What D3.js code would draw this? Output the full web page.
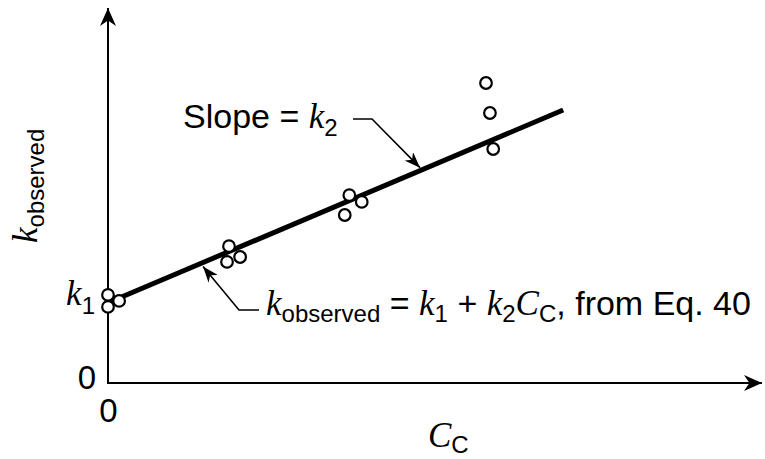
<!DOCTYPE html>
<html>
<head>
<meta charset="utf-8">
<script src="https://cdn.jsdelivr.net/npm/d3@7"></script>
<style>
  html, body { margin: 0; padding: 0; background: #fff; }
  svg { display: block; }
  .sans { font-family: "Liberation Sans", Arial, Helvetica, sans-serif; }
  .ital { font-family: "Liberation Serif", "Times New Roman", serif; font-style: italic; }
</style>
</head>
<body>
<svg id="chart" width="765" height="459"></svg>
<script>
// Measured rate constant versus catalyst concentration (arbitrary units)
const cc    = [0, 0, 1.7, 18.5, 18.2, 20.2, 36.9, 38.8, 36.2, 57.8, 58.4, 58.9];
const kObs  = [23.5, 20.3, 21.9, 36.5, 32.3, 33.6, 50.1, 48.3, 44.8, 80.0, 72.0, 62.4];

// Fitted straight line k_observed = k1 + k2 * C_C
const k1 = 21.4;
const k2 = 0.7385;
const fitRange = [0, 69.6];

const xTicks = [0];
const yTicks = [0];

const SANS = "34px", ITAL = "35px", SUB = "24px";

const svg = d3.select("#chart");
const x = d3.scaleLinear().domain([0, 100]).range([108, 762]);
const y = d3.scaleLinear().domain([0, 100]).range([383, 8]);

// Arrowhead markers
const defs = svg.append("defs");
function head(id, len, half) {
  defs.append("marker")
    .attr("id", id)
    .attr("viewBox", `0 ${-half} ${len} ${2 * half}`)
    .attr("refX", len).attr("refY", 0)
    .attr("markerWidth", len).attr("markerHeight", 2 * half)
    .attr("markerUnits", "userSpaceOnUse")
    .attr("orient", "auto")
    .append("path")
    .attr("d", `M0,${-half} L${len},0 L0,${half} L${len * 0.3},0 Z`)
    .attr("fill", "#000");
}
head("axisHead", 18, 8);
head("noteHead", 16, 6);

// Axis lines with arrows
svg.append("line")
  .attr("x1", x(0)).attr("y1", y(0)).attr("x2", x(0)).attr("y2", y(100))
  .attr("stroke", "#000").attr("stroke-width", 2)
  .attr("marker-end", "url(#axisHead)");
svg.append("line")
  .attr("x1", x(0) - 1).attr("y1", y(0)).attr("x2", x(100)).attr("y2", y(0))
  .attr("stroke", "#000").attr("stroke-width", 2)
  .attr("marker-end", "url(#axisHead)");

// Tick labels through d3 axes
const yAxis = svg.append("g")
  .attr("transform", `translate(${x(0) - 12},-5)`)
  .call(d3.axisLeft(y).tickValues(yTicks).tickSize(0).tickPadding(0).tickFormat(d3.format("d")));
const xAxis = svg.append("g")
  .attr("transform", `translate(0,${y(0) + 16})`)
  .call(d3.axisBottom(x).tickValues(xTicks).tickSize(0).tickPadding(0).tickFormat(d3.format("d")));
[yAxis, xAxis].forEach(g => {
  g.select(".domain").remove();
  g.selectAll("text")
    .attr("class", "sans")
    .style("font-size", "33px")
    .attr("fill", "#000");
});
xAxis.selectAll("text").attr("dy", "0.71em");

// k1 label on the vertical axis
const k1Label = svg.append("text")
  .attr("x", x(0) - 13).attr("y", y(k1) + 2)
  .attr("text-anchor", "end");
k1Label.append("tspan").attr("class", "ital").style("font-size", ITAL).text("k");
k1Label.append("tspan").attr("class", "sans").style("font-size", SUB).attr("dy", 9).text("1");

// Fitted line
const line = d3.line().x(d => x(d)).y(d => y(k1 + k2 * d));
svg.append("path")
  .datum(fitRange)
  .attr("d", line)
  .attr("fill", "none")
  .attr("stroke", "#000")
  .attr("stroke-width", 5);

// Data points
svg.append("g").selectAll("circle")
  .data(cc.map((c, i) => [c, kObs[i]]))
  .join("circle")
  .attr("cx", d => x(d[0]))
  .attr("cy", d => y(d[1]))
  .attr("r", 5.8)
  .attr("fill", "#fff")
  .attr("stroke", "#000")
  .attr("stroke-width", 2.2);

// Slope annotation
const slope = svg.append("text").attr("x", 183).attr("y", 128);
slope.append("tspan").attr("class", "sans").style("font-size", SANS).text("Slope = ");
slope.append("tspan").attr("class", "ital").style("font-size", ITAL).text("k");
slope.append("tspan").attr("class", "sans").style("font-size", SUB).attr("dy", 8).text("2");
const sx = 420, sy = y(k1 + k2 * x.invert(sx)) - 3;
svg.append("path")
  .attr("d", `M353,119 L372,119 L${sx},${sy}`)
  .attr("fill", "none").attr("stroke", "#000").attr("stroke-width", 1.6)
  .attr("marker-end", "url(#noteHead)");

// Equation annotation
const eq = svg.append("text").attr("x", 266).attr("y", 315);
eq.append("tspan").attr("class", "ital").style("font-size", ITAL).text("k");
eq.append("tspan").attr("class", "sans").style("font-size", SUB).attr("dy", 7).text("observed");
eq.append("tspan").attr("class", "sans").style("font-size", SANS).attr("dy", -7).text(" = ");
eq.append("tspan").attr("class", "ital").style("font-size", ITAL).text("k");
eq.append("tspan").attr("class", "sans").style("font-size", SUB).attr("dy", 7).text("1");
eq.append("tspan").attr("class", "sans").style("font-size", SANS).attr("dy", -7).text(" + ");
eq.append("tspan").attr("class", "ital").style("font-size", ITAL).text("k");
eq.append("tspan").attr("class", "sans").style("font-size", SUB).attr("dy", 7).text("2");
eq.append("tspan").attr("class", "ital").style("font-size", ITAL).attr("dy", -7).text("C");
eq.append("tspan").attr("class", "sans").style("font-size", SUB).attr("dy", 7).text("C");
eq.append("tspan").attr("class", "sans").style("font-size", SANS).attr("dy", -7).text(", from Eq. 40");
const ex = 203, ey = y(k1 + k2 * x.invert(ex)) + 4;
svg.append("path")
  .attr("d", `M259,310 L239,310 L${ex},${ey}`)
  .attr("fill", "none").attr("stroke", "#000").attr("stroke-width", 1.6)
  .attr("marker-end", "url(#noteHead)");

// Axis titles
const yTitle = svg.append("text")
  .attr("transform", "translate(37,243) rotate(-90)");
yTitle.append("tspan").attr("class", "ital").style("font-size", ITAL).text("k");
yTitle.append("tspan").attr("class", "sans").style("font-size", SUB).attr("dy", 7).text("observed");

const xTitle = svg.append("text").attr("x", 428).attr("y", 447);
xTitle.append("tspan").attr("class", "ital").style("font-size", ITAL).text("C");
xTitle.append("tspan").attr("class", "sans").style("font-size", SUB).attr("dy", 6).text("C");
</script>
</body>
</html>
